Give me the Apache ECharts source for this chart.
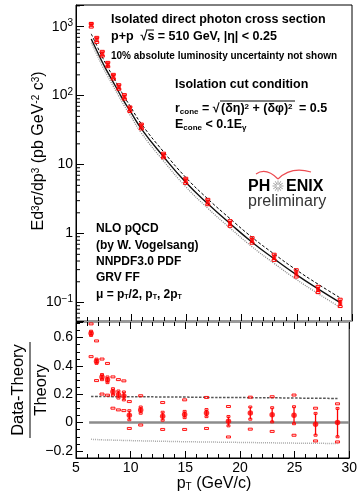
<!DOCTYPE html>
<html><head><meta charset="utf-8">
<script src="https://cdn.jsdelivr.net/npm/echarts@6/dist/echarts.min.js"></script>
<style>html,body{margin:0;padding:0;background:#fff}#c{width:360px;height:496px}</style>
</head><body><div id="c"></div>
<script>
// ---- data ----
const pT = [6.38, 6.88, 7.38, 7.88, 8.38, 8.88, 9.38, 9.88, 10.92, 12.93, 14.94, 16.94, 18.95, 20.95, 22.95, 24.95, 26.92, 28.93];
const crossSection = [1080, 650, 405, 282, 190, 134, 96, 64, 36, 13.6, 5.86, 2.88, 1.41, 0.80, 0.454, 0.267, 0.156, 0.100];
const theoryCentral = [663, 450, 307, 217, 156, 112, 81, 60.5, 33, 13, 5.54, 2.70, 1.40, 0.75, 0.43, 0.254, 0.158, 0.100];
const theoryUpper = [786, 533, 363, 257, 185, 132.5, 95.8, 71.5, 39.0, 15.35, 6.54, 3.18, 1.648, 0.882, 0.505, 0.298, 0.185, 0.117];
const theoryLower = [585, 396, 270, 190, 136.7, 98, 70.8, 52.8, 28.7, 11.28, 4.79, 2.33, 1.205, 0.644, 0.369, 0.217, 0.135, 0.0852];
const ratio = [0.63, 0.433, 0.321, 0.302, 0.217, 0.198, 0.188, 0.052, 0.088, 0.045, 0.057, 0.067, 0.01, 0.067, 0.055, 0.052, -0.012, 0.0];
const ratioStat = [0.015, 0.015, 0.018, 0.02, 0.022, 0.025, 0.028, 0.032, 0.022, 0.028, 0.022, 0.025, 0.033, 0.043, 0.05, 0.06, 0.077, 0.1];
const ratioSysHigh = [0.70, 0.58, 0.452, 0.421, 0.326, 0.307, 0.298, 0.152, 0.193, 0.145, 0.164, 0.181, 0.117, 0.183, 0.186, 0.198, 0.105, 0.136];
const ratioSysLow = [0.462, 0.293, 0.198, 0.19, 0.098, 0.086, 0.081, -0.045, -0.021, -0.052, -0.052, -0.045, -0.105, -0.05, -0.066, -0.093, -0.133, -0.14];
const bandUpperRatio = [0.185, 0.185, 0.184, 0.184, 0.183, 0.183, 0.183, 0.182, 0.182, 0.181, 0.180, 0.178, 0.177, 0.176, 0.175, 0.173, 0.172, 0.170];
const bandLowerRatio = [-0.118, -0.120, -0.122, -0.123, -0.124, -0.125, -0.126, -0.127, -0.129, -0.132, -0.135, -0.137, -0.139, -0.141, -0.143, -0.145, -0.146, -0.148];
const zeroLineX = [6.2, 30];
const logMinorTicks = [0.06, 0.07, 0.08, 0.09, 0.2, 0.3, 0.4, 0.5, 0.6, 0.7, 0.8, 0.9, 2, 3, 4, 5, 6, 7, 8, 9, 20, 30, 40, 50, 60, 70, 80, 90, 200, 300, 400, 500, 600, 700, 800, 900, 2000];

const F = 'Liberation Sans, Arial, Helvetica, sans-serif';
const RED = '#ff0000';
const chart = echarts.init(document.getElementById('c'), null, {renderer: 'canvas'});

const zip = (a, b) => a.map((v, i) => [v, b[i]]);

function rt(x, y, text, size, weight, extra) {
  const sub = {fontSize: Math.round(size * 0.62), fontFamily: F, fontWeight: weight, fill: '#000', verticalAlign: 'bottom'};
  const sup = {fontSize: Math.round(size * 0.62), fontFamily: F, fontWeight: weight, fill: '#000', verticalAlign: 'top'};
  return Object.assign({
    type: 'text', x: x, y: y, z: 100,
    style: {text: text, fontFamily: F, fontSize: size, fontWeight: weight, fill: '#000', align: 'left', verticalAlign: 'middle',
      rich: {sub: sub, sup: sup}}
  }, extra || {});
}

const star = [];
for (let k = 0; k < 12; k++) {
  const a = k * Math.PI / 6;
  star.push({type: 'line', z: 100, shape: {x1: 278 + Math.cos(a) * 1.5, y1: 186 + Math.sin(a) * 1.5, x2: 278 + Math.cos(a) * 5.5, y2: 186 + Math.sin(a) * 5.5}, style: {stroke: '#9a9a9a', lineWidth: 0.9}});
}

const axisTickStyle = {color: '#000', width: 1};

function logLabel(v) {
  const e = Math.log10(v);
  const r = Math.round(e);
  if (Math.abs(e - r) > 1e-6) return '';
  if (r === 0) return '1';
  if (r === 1) return '10';
  return '10{s|' + String(r).replace('-', '\u2212') + '}';
}

function ratioLabel(v) {
  const k = v * 5;
  if (Math.abs(k - Math.round(k)) > 1e-6) return '';
  if (Math.abs(v) < 1e-9) return '0';
  return (Math.round(v * 10) / 10).toFixed(1).replace('-', '\u2212');
}

const option = {
  animation: false,
  backgroundColor: '#fff',
  grid: [
    {left: 76, top: 5, width: 276, height: 316, show: true, borderColor: '#000', borderWidth: 1, backgroundColor: 'transparent'},
    {left: 76, top: 322, width: 276, height: 136, show: true, borderColor: '#000', borderWidth: 1, backgroundColor: 'transparent'}
  ],
  xAxis: [
    {gridIndex: 0, type: 'value', min: 5, max: 30, interval: 5, position: 'bottom',
      axisLine: {onZero: false, lineStyle: {color: '#999', width: 2}},
      axisTick: {inside: true, length: 7, lineStyle: axisTickStyle},
      minorTick: {show: true, splitNumber: 5, length: 4, lineStyle: axisTickStyle},
      axisLabel: {show: false}, splitLine: {show: false}},
    {gridIndex: 1, type: 'value', min: 5, max: 30, interval: 5, position: 'bottom',
      axisLine: {onZero: false, lineStyle: {color: '#000', width: 1}},
      axisTick: {inside: true, length: 7, lineStyle: axisTickStyle},
      minorTick: {show: true, splitNumber: 5, length: 4, lineStyle: axisTickStyle},
      axisLabel: {fontSize: 14, color: '#000', fontFamily: F, margin: 3}, splitLine: {show: false}},
    {gridIndex: 1, type: 'value', min: 5, max: 30, interval: 5, position: 'top',
      axisLine: {onZero: false, lineStyle: {color: '#999', width: 2}},
      axisTick: {inside: true, length: 7, lineStyle: axisTickStyle},
      minorTick: {show: true, splitNumber: 5, length: 4, lineStyle: axisTickStyle},
      axisLabel: {show: false}, splitLine: {show: false}}
  ],
  yAxis: [
    {gridIndex: 0, type: 'log', logBase: 10, min: 0.054, max: 2060,
      axisLine: {onZero: false, lineStyle: {color: '#000', width: 1}},
      axisTick: {inside: true, length: 8, lineStyle: axisTickStyle},
      axisLabel: {fontSize: 14, color: '#000', fontFamily: F, margin: 3, formatter: logLabel,
        rich: {s: {fontSize: 10, fontFamily: F, color: '#000', verticalAlign: 'top', padding: [0, 0, 7, 0]}}},
      splitLine: {show: false}},
    {gridIndex: 1, type: 'value', min: -0.25, max: 0.71,
      axisLine: {onZero: false, lineStyle: {color: '#000', width: 1}},
      axisTick: {inside: true, length: 7, lineStyle: axisTickStyle},
      minorTick: {show: true, splitNumber: 4, length: 4, lineStyle: axisTickStyle},
      axisLabel: {fontSize: 14, color: '#000', fontFamily: F, margin: 3, formatter: ratioLabel, showMinLabel: true, showMaxLabel: true},
      splitLine: {show: false}}
  ],
  series: [
    // ---- top panel ----
    {type: 'custom', xAxisIndex: 0, yAxisIndex: 0, data: logMinorTicks.map(v => [5, v]), z: 20, silent: true,
      renderItem: (p, api) => {
        const c = api.coord([api.value(0), api.value(1)]);
        return {type: 'line', shape: {x1: c[0], y1: c[1], x2: c[0] + 4, y2: c[1]}, style: {stroke: '#000', lineWidth: 1}};
      }},
    {type: 'line', xAxisIndex: 0, yAxisIndex: 0, data: zip(pT, theoryLower), smooth: true, symbol: 'none',
      lineStyle: {color: '#8a8a8a', width: 1.3, type: [1, 1.2]}, z: 3},
    {type: 'line', xAxisIndex: 0, yAxisIndex: 0, data: zip(pT, theoryUpper), smooth: true, symbol: 'none',
      lineStyle: {color: '#000', width: 1, type: [3, 2]}, z: 3},
    {type: 'line', xAxisIndex: 0, yAxisIndex: 0, data: zip(pT, theoryCentral), smooth: true, symbol: 'none',
      lineStyle: {color: '#111', width: 1.4}, z: 4},
    {type: 'custom', xAxisIndex: 0, yAxisIndex: 0, z: 6, silent: true,
      data: pT.map((x, i) => [x, theoryCentral[i], ratio[i], ratioStat[i], ratioSysHigh[i], ratioSysLow[i]]),
      renderItem: (p, api) => {
        const x = api.value(0), th = api.value(1), r = api.value(2), s = api.value(3), hi = api.value(4), lo = api.value(5);
        const a = api.coord([x, th * (1 + r + s)]), b = api.coord([x, th * (1 + r - s)]);
        const h = api.coord([x, th * (1 + hi)]), l = api.coord([x, th * (1 + lo)]);
        const st = {stroke: RED, lineWidth: 1, fill: 'rgba(0,0,0,0)'};
        return {type: 'group', children: [
          {type: 'line', shape: {x1: a[0], y1: a[1], x2: b[0], y2: b[1]}, style: {stroke: RED, lineWidth: 1.3}},
          {type: 'rect', shape: {x: h[0] - 2, y: h[1] - 0.5, width: 4, height: 2}, style: st},
          {type: 'rect', shape: {x: l[0] - 2, y: l[1] - 1.5, width: 4, height: 2}, style: st}
        ]};
      }},
    {type: 'scatter', xAxisIndex: 0, yAxisIndex: 0, data: zip(pT, crossSection), symbol: 'rect', symbolSize: [4, 5],
      itemStyle: {color: RED}, z: 7},
    // ---- bottom panel ----
    {type: 'line', xAxisIndex: 1, yAxisIndex: 1, data: zeroLineX.map(x => [x, 0]), symbol: 'none',
      lineStyle: {color: '#8c8c8c', width: 2.5}, z: 2},
    {type: 'line', xAxisIndex: 1, yAxisIndex: 1, data: zip(pT, bandUpperRatio), symbol: 'none', smooth: true,
      lineStyle: {color: '#555', width: 1.5, type: [2.5, 1.5]}, z: 3},
    {type: 'line', xAxisIndex: 1, yAxisIndex: 1, data: zip(pT, bandLowerRatio), symbol: 'none', smooth: true,
      lineStyle: {color: '#aaa', width: 1.5, type: [1, 1]}, z: 3},
    {type: 'custom', xAxisIndex: 1, yAxisIndex: 1, z: 6, silent: true,
      data: pT.map((x, i) => [x, ratio[i], ratioStat[i], ratioSysHigh[i], ratioSysLow[i]]),
      renderItem: (p, api) => {
        const x = api.value(0), y = api.value(1), s = api.value(2), hi = api.value(3), lo = api.value(4);
        const a = api.coord([x, y + s]), b = api.coord([x, y - s]);
        const h = api.coord([x, hi]), l = api.coord([x, lo]);
        const st = {stroke: RED, lineWidth: 0.9, fill: 'rgba(255,0,0,0.12)'};
        return {type: 'group', children: [
          {type: 'line', shape: {x1: a[0], y1: a[1], x2: b[0], y2: b[1]}, style: {stroke: RED, lineWidth: 1.3}},
          {type: 'rect', shape: {x: a[0] - 1.5, y: a[1] - 1, width: 3, height: 2}, style: st},
          {type: 'rect', shape: {x: b[0] - 1.5, y: b[1] - 1, width: 3, height: 2}, style: st},
          {type: 'rect', shape: {x: h[0] - 2, y: h[1] - 0.5, width: 4, height: 2}, style: st},
          {type: 'rect', shape: {x: l[0] - 2, y: l[1] - 1.5, width: 4, height: 2}, style: st}
        ]};
      }},
    {type: 'scatter', xAxisIndex: 1, yAxisIndex: 1, data: zip(pT, ratio), symbol: 'circle', symbolSize: 5.5,
      itemStyle: {color: RED}, z: 7}
  ],
  graphic: [
    rt(111, 20, 'Isolated direct photon cross section', 12.5, 'bold'),
    rt(111, 37, 'p+p  \u221As = 510 GeV, |\u03B7| < 0.25', 12.5, 'bold'),
    {type: 'line', z: 100, shape: {x1: 146, y1: 30, x2: 154, y2: 30}, style: {stroke: '#000', lineWidth: 1}},
    rt(111, 56, '10% absolute luminosity uncertainty not shown', 10, 'bold'),
    rt(175, 85, 'Isolation cut condition', 12.5, 'bold'),
    rt(175, 109, 'r{sub|cone} = \u221A', 12.5, 'bold'),
    rt(221, 109, '(\u03B4\u03B7){sup|2} + (\u03B4\u03C6){sup|2}', 12.5, 'bold'),
    {type: 'line', z: 100, shape: {x1: 220, y1: 101, x2: 295, y2: 101}, style: {stroke: '#000', lineWidth: 1}},
    rt(299, 109, '= 0.5', 12.5, 'bold'),
    rt(175, 125, 'E{sub|cone} < 0.1E{sub|\u03B3}', 12.5, 'bold'),
    // PHENIX preliminary
    {type: 'bezierCurve', z: 100, shape: {x1: 256, y1: 174, cpx1: 266, cpy1: 167, x2: 278, y2: 179}, style: {stroke: '#ec4a50', fill: null, lineWidth: 1.2}},
    {type: 'bezierCurve', z: 100, shape: {x1: 278, y1: 179, cpx1: 291, cpy1: 166, x2: 311, y2: 172}, style: {stroke: '#ec4a50', fill: null, lineWidth: 1.2}},
    rt(248, 187, 'PH', 16, 'bold'),
    rt(286, 187, 'ENIX', 16, 'bold'),
    ...star,
    {type: 'text', x: 248, y: 202, z: 100, style: {text: 'preliminary', fontFamily: F, fontSize: 16, fill: '#333', align: 'left', verticalAlign: 'middle'}},
    // left text block
    rt(96, 229, 'NLO pQCD', 12, 'bold'),
    rt(96, 246, '(by W. Vogelsang)', 12, 'bold'),
    rt(96, 262, 'NNPDF3.0 PDF', 12, 'bold'),
    rt(96, 278, 'GRV FF', 12, 'bold'),
    rt(96, 295, '\u03BC = p{sub|T}/2, p{sub|T}, 2p{sub|T}', 12, 'bold'),
    // axis titles
    rt(39, 151, 'Ed{sup|3}\u03C3/dp{sup|3} (pb GeV{sup|-2} c{sup|3})', 16, 'normal', {rotation: Math.PI / 2}),
    rt(18, 390, 'Data-Theory', 16.5, 'normal', {rotation: Math.PI / 2}),
    {type: 'line', z: 100, shape: {x1: 30, y1: 342, x2: 30, y2: 438}, style: {stroke: '#000', lineWidth: 1}},
    rt(41, 390, 'Theory', 16.5, 'normal', {rotation: Math.PI / 2}),
    rt(214, 484, 'p{sub|T} (GeV/c)', 16, 'normal')
  ]
};
// center-align the rotated and x titles
option.graphic.forEach(g => {
  if (g.type === 'text' && (g.rotation || g.y === 484)) g.style.align = 'center';
});
chart.setOption(option);
</script></body></html>
